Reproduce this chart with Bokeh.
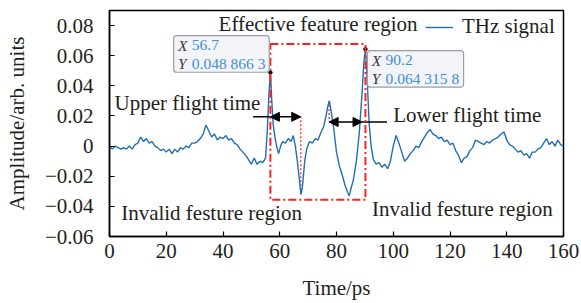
from bokeh.plotting import figure
from bokeh.embed import file_html
from bokeh.resources import INLINE
from bokeh.models import (Range1d, FixedTicker, Label, Arrow, NormalHead,
                          BoxAnnotation, ColumnDataSource)

# ---- data ----
time_ps = [0, 1, 2, 3, 4, 5, 6, 7, 8, 9, 10, 11, 12, 13, 14, 15, 16, 17, 18, 19,
           20, 21, 22, 23, 24, 25, 26, 27, 28, 29, 30, 31, 32, 33, 34, 35, 36, 37, 38, 39,
           40, 41, 42, 43, 44, 45, 46, 47, 48, 49, 50, 51, 52, 53, 54, 55,
           55.6, 56.2, 56.7, 57.2, 57.7, 58.3, 59, 59.6, 60.3, 61, 62, 63, 64, 64.8,
           65.5, 66.2, 67, 67.5, 68, 68.8, 69.5, 70.5, 71.5, 72.5, 73.5, 74.5, 75.5,
           76.3, 77, 77.5, 78.2, 79, 80, 81, 82, 83, 84, 84.5, 85, 86, 87, 88, 89,
           89.6, 90.2, 90.8, 91.5, 92.2, 93, 94, 95, 96, 97, 98, 99,
           100, 101, 102, 103, 104, 105, 106, 107, 108, 109, 110, 111, 112, 113, 114,
           115, 116, 117, 118, 119, 120, 121, 122, 123, 124, 125, 126, 127, 128, 129,
           130, 131, 132, 133, 134, 135, 136, 137, 138, 139, 140, 141, 142, 143, 144,
           145, 146, 147, 148, 149, 150, 151, 152, 153, 154, 155, 156, 157, 158, 159, 160]
amplitude = [-0.000, -0.002, 0.000, -0.001, -0.002, -0.001, -0.002, -0.000, -0.002, 0.001,
             0.002, 0.006, 0.003, 0.005, 0.002, 0.003, 0.000, -0.001, -0.003, -0.002,
             -0.004, -0.002, -0.005, -0.002, -0.004, -0.001, -0.002, 0.000, -0.001, 0.002,
             0.002, 0.003, 0.005, 0.008, 0.014, 0.010, 0.006, 0.008, 0.004, 0.006,
             0.005, 0.007, 0.004, 0.005, 0.002, 0.001, -0.002, -0.004, -0.006, -0.009,
             -0.012, -0.008, -0.012, -0.010, -0.011, -0.008,
             0.010, 0.035, 0.0488663, 0.030, 0.014, 0.006, -0.001, -0.005, 0.000, 0.003,
             0.002, 0.005, 0.003, 0.007,
             0.000, -0.010, -0.024, -0.032, -0.027, -0.010, -0.002, 0.003, 0.002, 0.005,
             0.004, 0.009, 0.013,
             0.020, 0.027, 0.030, 0.022, 0.012, -0.004, -0.013, -0.019, -0.026, -0.031,
             -0.033, -0.029, -0.022, -0.010, 0.008, 0.035,
             0.055, 0.0643158, 0.045, 0.015, 0.000, -0.009, -0.012, -0.011, -0.014, -0.012,
             -0.015, -0.010,
             0.000, 0.007, 0.002, -0.004, -0.010, -0.008, -0.005, -0.003, 0.000, -0.001,
             0.003, 0.006, 0.009, 0.011, 0.008,
             0.007, 0.005, 0.006, 0.003, 0.004, 0.001, 0.002, -0.003, -0.006, -0.011,
             -0.008, -0.007, -0.003, -0.001, 0.004,
             0.003, 0.002, 0.001, 0.003, 0.002, 0.004, 0.005, 0.006, 0.008, 0.0095,
             0.004, 0.001, 0.000, -0.002, -0.004,
             -0.003, -0.006, -0.005, -0.008, -0.004, -0.004, -0.002, -0.001, 0.002, 0.005,
             0.001, 0.003, 0.000, 0.004, 0.001, 0.000]

peak_time = [56.7, 90.2]
peak_value = [0.0488663, 0.0643158]
peak_x_text = ["56.7", "90.2"]
peak_y_text = ["0.048 866 3", "0.064 315 8"]

valley_time = 67.4        # first negative valley
second_peak_time = 77.4   # secondary positive peak
upper_arrow_level = 0.0194
lower_arrow_level = 0.016
lower_arrow_end = 89.0
valley_value = -0.032
second_peak_value = 0.030
region_bottom = -0.0356
region_top = 0.0678

x_ticks = [0, 20, 40, 60, 80, 100, 120, 140, 160]
y_ticks = [-0.06, -0.04, -0.02, 0, 0.02, 0.04, 0.06, 0.08]
y_tick_labels = ["\u22120.06", "\u22120.04", "\u22120.02", "0", "0.02", "0.04", "0.06", "0.08"]

FONT = "Liberation Serif"
TXT = "#231f20"
BLUE = "#1f6fb4"
RED = "#ff2020"
FS = "21px"

p = figure(width=581, height=303, output_backend="svg", toolbar_location=None,
           x_range=Range1d(0, 160), y_range=Range1d(-0.06, 0.09),
           min_border_left=109, min_border_right=18, min_border_top=10, min_border_bottom=67)
p.xgrid.visible = False
p.ygrid.visible = False
p.outline_line_color = "black"
p.outline_line_width = 1.5
p.background_fill_color = "white"
p.border_fill_color = "white"

for ax in (p.xaxis[0], p.yaxis[0]):
    ax.axis_line_color = "black"
    ax.axis_line_width = 1.5
    ax.major_tick_in = 5
    ax.major_tick_out = 0
    ax.minor_tick_in = 0
    ax.minor_tick_out = 0
    ax.major_tick_line_color = "black"
    ax.major_tick_line_width = 1.2
    ax.major_label_text_font = FONT
    ax.major_label_text_font_size = FS
    ax.major_label_text_color = TXT
    ax.axis_label_text_font = FONT
    ax.axis_label_text_font_size = FS
    ax.axis_label_text_font_style = "normal"
    ax.axis_label_text_color = TXT

p.xaxis.ticker = FixedTicker(ticks=x_ticks)
p.yaxis.ticker = FixedTicker(ticks=y_ticks)
p.yaxis.major_label_overrides = {t: l for t, l in zip(y_ticks, y_tick_labels)}
p.xaxis.major_label_standoff = 7
p.yaxis.major_label_standoff = 16
p.xaxis.axis_label = "Time/ps"
p.yaxis.axis_label = "Amplitude/arb. units"
p.xaxis.axis_label_standoff = 15
p.yaxis.axis_label_standoff = 13

# effective feature region (dash-dot box)
p.add_layout(BoxAnnotation(left=peak_time[0], right=peak_time[1], bottom=region_bottom,
                           top=region_top, fill_alpha=0, line_color=RED, line_alpha=1,
                           line_width=2, line_dash="8 3 2 3"))

# dotted guides
p.segment(x0=[valley_time, second_peak_time], y0=[valley_value, second_peak_value],
          x1=[valley_time, second_peak_time], y1=[upper_arrow_level, lower_arrow_level],
          line_color="#ff4a4a", line_width=1.6, line_dash="2 2")

# signal
src = ColumnDataSource(dict(t=time_ps, a=amplitude))
p.line("t", "a", source=src, line_color=BLUE, line_width=1.4, legend_label="THz signal")

# arrows
for (x0, x1, y) in [(peak_time[0], valley_time, upper_arrow_level),
                    (second_peak_time, lower_arrow_end, lower_arrow_level)]:
    p.add_layout(Arrow(x_start=x0, x_end=x1, y_start=y, y_end=y, line_color="black",
                       line_width=1.5,
                       start=NormalHead(size=9, fill_color="black", line_color="black"),
                       end=NormalHead(size=9, fill_color="black", line_color="black")))
# leader lines to labels
p.segment(x0=[50.6, lower_arrow_end], y0=[upper_arrow_level, lower_arrow_level],
          x1=[peak_time[0], 97.8], y1=[upper_arrow_level, lower_arrow_level],
          line_color="black", line_width=1.5)

# data tips
boxes = [(22.6, 56.3, 0.0490, 0.0733), (90.9, 124.8, 0.0391, 0.0634)]
for i, (l, r, b, t) in enumerate(boxes):
    p.add_layout(BoxAnnotation(left=l, right=r, bottom=b, top=t, fill_color="#f3f4f8",
                               fill_alpha=1, line_color="#9a9ea6", line_alpha=1,
                               line_width=1.2, border_radius=3))
    for lab, dy, clr, dx, style in [("X", 0.0063, "#3a3a3a", 1.5, "italic"),
                                    ("Y", 0.0184, "#3a3a3a", 1.5, "italic"),
                                    (peak_x_text[i], 0.0063, "#3f8fd6", 6.4, "normal"),
                                    (peak_y_text[i], 0.0184, "#3f8fd6", 6.4, "normal")]:
        p.add_layout(Label(x=l + dx, y=t - dy, text=lab, text_font=FONT,
                           text_font_size="15.5px", text_font_style=style, text_color=clr,
                           text_baseline="middle"))

p.scatter(peak_time, peak_value, size=3.5, color="black")

# region labels
def txt(x, y, s, align="left"):
    p.add_layout(Label(x=x, y=y, text=s, text_font=FONT, text_font_size=FS,
                       text_color=TXT, text_baseline="middle", text_align=align))

txt(73.5, 0.0809, "Effective feature region", "center")
txt(1.8, 0.0284, "Upper flight time")
txt(100.0, 0.0204, "Lower flight time")
txt(4.1, -0.0441, "Invalid festure region")
txt(92.5, -0.0419, "Invalid festure region")

leg = p.legend[0]
leg.location = "top_right"
leg.border_line_alpha = 0
leg.background_fill_alpha = 0
leg.label_text_font = FONT
leg.label_text_font_size = FS
leg.label_text_color = TXT
leg.glyph_width = 28
leg.label_standoff = 9
leg.label_width = 97
leg.margin = 0
leg.padding = 4
leg.spacing = 0

open("out.html", "w").write(file_html(p, INLINE))
